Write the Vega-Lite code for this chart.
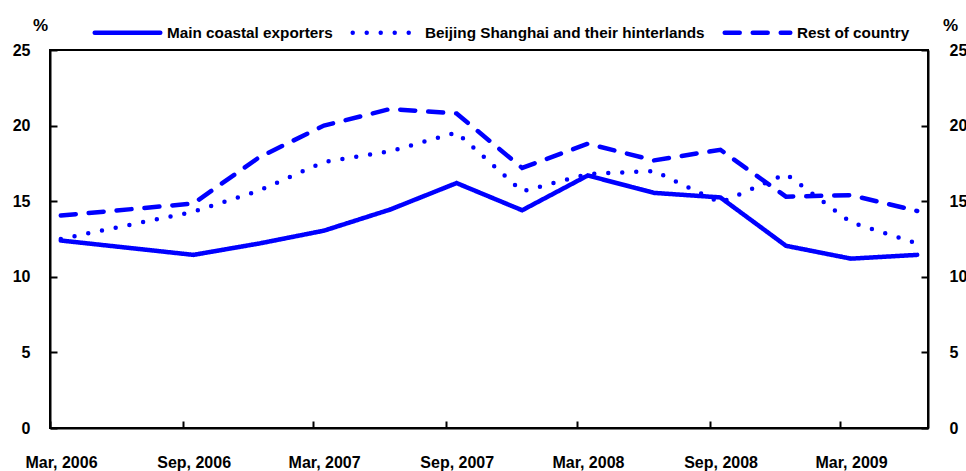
{
  "$schema": "https://vega.github.io/schema/vega-lite/v6.json",
  "autosize": "none",
  "width": 878,
  "height": 378,
  "padding": {"left": 50, "top": 50, "right": 38, "bottom": 43},
  "background": "white",
  "config": {
    "font": "Liberation Sans",
    "view": {"stroke": "black", "strokeWidth": 2},
    "axis": {
      "labelFont": "Liberation Sans",
      "labelFontWeight": "bold",
      "labelFontSize": 16,
      "labelColor": "black",
      "titleFont": "Liberation Sans",
      "titleFontWeight": "bold",
      "titleFontSize": 17,
      "titleColor": "black",
      "domainColor": "black",
      "domainWidth": 2,
      "tickColor": "black",
      "tickWidth": 2,
      "tickSize": -7,
      "grid": false
    }
  },
  "data": {
    "values": [
      {"date": "2006-03-16", "series": "Main coastal exporters", "value": 12.4},
      {"date": "2006-09-16", "series": "Main coastal exporters", "value": 11.45},
      {"date": "2006-12-16", "series": "Main coastal exporters", "value": 12.2},
      {"date": "2007-03-16", "series": "Main coastal exporters", "value": 13.05},
      {"date": "2007-06-16", "series": "Main coastal exporters", "value": 14.45},
      {"date": "2007-09-16", "series": "Main coastal exporters", "value": 16.2},
      {"date": "2007-12-16", "series": "Main coastal exporters", "value": 14.4},
      {"date": "2008-03-16", "series": "Main coastal exporters", "value": 16.7},
      {"date": "2008-06-16", "series": "Main coastal exporters", "value": 15.55},
      {"date": "2008-09-16", "series": "Main coastal exporters", "value": 15.25},
      {"date": "2008-12-16", "series": "Main coastal exporters", "value": 12.05},
      {"date": "2009-03-16", "series": "Main coastal exporters", "value": 11.2},
      {"date": "2009-06-16", "series": "Main coastal exporters", "value": 11.45},
      {"date": "2006-03-16", "series": "Beijing Shanghai and their hinterlands", "value": 12.5},
      {"date": "2006-09-16", "series": "Beijing Shanghai and their hinterlands", "value": 14.3},
      {"date": "2006-12-16", "series": "Beijing Shanghai and their hinterlands", "value": 15.7},
      {"date": "2007-03-16", "series": "Beijing Shanghai and their hinterlands", "value": 17.6},
      {"date": "2007-06-16", "series": "Beijing Shanghai and their hinterlands", "value": 18.3},
      {"date": "2007-09-16", "series": "Beijing Shanghai and their hinterlands", "value": 19.55},
      {"date": "2007-12-16", "series": "Beijing Shanghai and their hinterlands", "value": 15.65},
      {"date": "2008-03-16", "series": "Beijing Shanghai and their hinterlands", "value": 16.8},
      {"date": "2008-06-16", "series": "Beijing Shanghai and their hinterlands", "value": 17.0},
      {"date": "2008-09-16", "series": "Beijing Shanghai and their hinterlands", "value": 14.9},
      {"date": "2008-12-16", "series": "Beijing Shanghai and their hinterlands", "value": 16.8},
      {"date": "2009-03-16", "series": "Beijing Shanghai and their hinterlands", "value": 13.6},
      {"date": "2009-06-16", "series": "Beijing Shanghai and their hinterlands", "value": 12.2},
      {"date": "2006-03-16", "series": "Rest of country", "value": 14.05},
      {"date": "2006-09-16", "series": "Rest of country", "value": 14.85},
      {"date": "2006-12-16", "series": "Rest of country", "value": 17.9},
      {"date": "2007-03-16", "series": "Rest of country", "value": 20.0},
      {"date": "2007-06-16", "series": "Rest of country", "value": 21.1},
      {"date": "2007-09-16", "series": "Rest of country", "value": 20.8},
      {"date": "2007-12-16", "series": "Rest of country", "value": 17.2},
      {"date": "2008-03-16", "series": "Rest of country", "value": 18.8},
      {"date": "2008-06-16", "series": "Rest of country", "value": 17.7},
      {"date": "2008-09-16", "series": "Rest of country", "value": 18.4},
      {"date": "2008-12-16", "series": "Rest of country", "value": 15.3},
      {"date": "2009-03-16", "series": "Rest of country", "value": 15.4},
      {"date": "2009-06-16", "series": "Rest of country", "value": 14.35}
    ]
  },
  "encoding": {
    "x": {
      "field": "date",
      "type": "temporal",
      "scale": {"domain": [{"year": 2006, "month": 3, "date": 1}, {"year": 2009, "month": 7, "date": 1}]},
      "axis": {
        "title": null,
        "format": "%b, %Y",
        "values": [
          {"year": 2006, "month": 3, "date": 1},
          {"year": 2006, "month": 9, "date": 1},
          {"year": 2007, "month": 3, "date": 1},
          {"year": 2007, "month": 9, "date": 1},
          {"year": 2008, "month": 3, "date": 1},
          {"year": 2008, "month": 9, "date": 1},
          {"year": 2009, "month": 3, "date": 1}
        ],
        "labelOffset": 11,
        "labelPadding": 33,
        "labelFlush": false,
        "labelOverlap": false,
        "labelBound": false
      }
    },
    "y": {
      "field": "value",
      "type": "quantitative",
      "scale": {"domain": [0, 25], "nice": false}
    }
  },
  "layer": [
    {
      "mark": {"type": "line", "color": "#0000ff", "strokeWidth": 4.5, "strokeCap": "round", "strokeJoin": "miter"},
      "encoding": {
        "y": {
          "field": "value",
          "type": "quantitative",
          "axis": {
            "orient": "left",
            "values": [0, 5, 10, 15, 20, 25],
            "title": "%",
            "titleAngle": 0,
            "titleAlign": "center",
            "titleBaseline": "alphabetic",
            "titleX": -10,
            "titleY": -20,
            "labelPadding": 27
          }
        },
        "strokeDash": {
          "field": "series",
          "type": "nominal",
          "scale": {
            "domain": ["Main coastal exporters", "Beijing Shanghai and their hinterlands", "Rest of country"],
            "range": [[1, 0], [0, 14], [15, 13]]
          },
          "legend": {
            "title": null,
            "orient": "none",
            "direction": "horizontal",
            "legendX": 42,
            "legendY": -53,
            "padding": 0,
            "symbolType": "stroke",
            "symbolSize": 4300,
            "symbolStrokeWidth": 4.5,
            "symbolStrokeColor": "#0000ff",
            "labelFont": "Liberation Sans",
            "labelFontWeight": "bold",
            "labelFontSize": 15.3,
            "labelColor": "black",
            "labelOffset": 4,
            "columnPadding": 10,
            "labelLimit": 400,
            "encode": {"symbols": {"update": {"strokeCap": {"value": "round"}}}}
          }
        }
      }
    },
    {
      "mark": {"type": "point", "opacity": 0},
      "encoding": {
        "y": {
          "field": "value",
          "type": "quantitative",
          "axis": {
            "orient": "right",
            "values": [0, 5, 10, 15, 20, 25],
            "title": "%",
            "titleAngle": 0,
            "titleAlign": "center",
            "titleBaseline": "alphabetic",
            "titleX": 22,
            "titleY": -20,
            "labelPadding": 28
          }
        }
      }
    }
  ],
  "resolve": {"axis": {"y": "independent"}}
}
